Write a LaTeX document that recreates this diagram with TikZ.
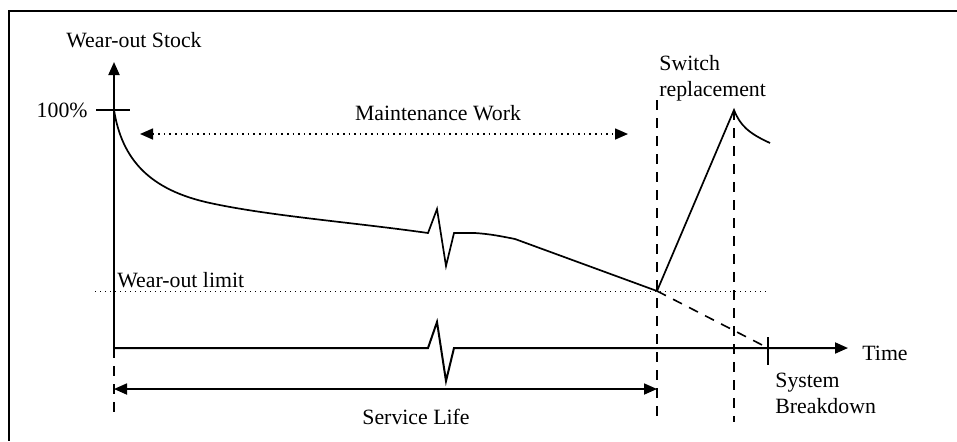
\documentclass[tikz,border=0pt]{standalone}
\usepackage{fontspec}
\setmainfont{Liberation Serif}
\usetikzlibrary{arrows.meta}
\tikzset{
  curve/.style={line width=0.85pt, line join=miter},
  axis/.style={line width=1pt, -{Triangle[length=6.5pt,width=5.5pt]}},
  guide/.style={line width=0.8pt, dash pattern=on 5pt off 4pt},
  span/.style={line width=0.85pt, {Triangle[length=6.5pt,width=5.5pt]}-{Triangle[length=6.5pt,width=5.5pt]}},
  lbl/.style={inner sep=0pt, font=\fontsize{10.9}{13}\selectfont},
}
\begin{document}
\begin{tikzpicture}[x=0.5pt, y=-0.5pt]
  \useasboundingbox (0,0) rectangle (957,441);
  % frame
  \draw[line width=1pt] (957,11) -- (9,11) -- (9,441);

  % key points
  \coordinate (O) at (114,348);
  \coordinate (Ytop) at (114,62);
  \coordinate (Tend) at (848,348);
  \coordinate (Full) at (114,110);
  \coordinate (Fail) at (657,291);
  \coordinate (Peak) at (734,110);
  \coordinate (Brk) at (768,348);

  % axes (time axis with break mark)
  \draw[axis] (O) -- (Ytop);
  \draw[axis] (O) -- (428,348) -- (437,322) -- (446,381) -- (454,348) -- (Tend);
  % 100% tick and breakdown tick
  \draw[line width=0.8pt] (96,110) -- (130,110);
  \draw[line width=0.8pt] (768,337) -- (768,365);

  % wear-out limit
  \draw[line width=0.5pt, dotted] (95,291) -- (769,291);

  % wear-out stock curve with break mark
  \draw[curve] (Full) .. controls (122,160) and (150,190) .. (210,203)
    .. controls (270,216) and (350,222) .. (428,233)
    -- (437,209) -- (446,266) -- (454,233) -- (475,233)
    .. controls (490,234) and (500,236) .. (515,239) -- (Fail);
  % replacement and new decay
  \draw[curve] (Fail) -- (Peak) .. controls (740,125) and (748,133) .. (770,143);
  % extrapolated wear without replacement
  \draw[line width=0.8pt, dash pattern=on 5pt off 4pt] (Fail) -- (Brk);

  % vertical guides
  \draw[guide] (O) -- (114,415);
  \draw[guide] (657,100) -- (657,422);
  \draw[guide] (734,110) -- (734,422);

  % maintenance span and service life span
  \coordinate (Ma) at (140,134);
  \coordinate (Mb) at (628,134);
  \draw[line width=0.8pt, dotted, {Triangle[length=6.5pt,width=5.5pt]}-{Triangle[length=6.5pt,width=5.5pt]}] (Ma) -- (Mb);
  \coordinate (Sa) at (114,389);
  \coordinate (Sb) at (657,389);
  \draw[span] (Sa) -- (Sb);

  % labels
  \node[lbl] (ystock) at (134,40) {Wear-out Stock};
  \node[lbl, anchor=east] (pct) at (88,110) {100\%};
  \node[lbl, anchor=west] (lim) at (117,280) {Wear-out limit};
  \node[lbl] (maint) at (438,113) {Maintenance Work};
  \node[lbl] (serv) at (416,417) {Service Life};
  \node[lbl, anchor=west] (time) at (862,353) {Time};
  \node[lbl, anchor=north west, align=left] (sw) at (659,55) {Switch\\replacement};
  \node[lbl, anchor=north west, align=left] (sys) at (775,373) {System\\Breakdown};
\end{tikzpicture}
\end{document}
